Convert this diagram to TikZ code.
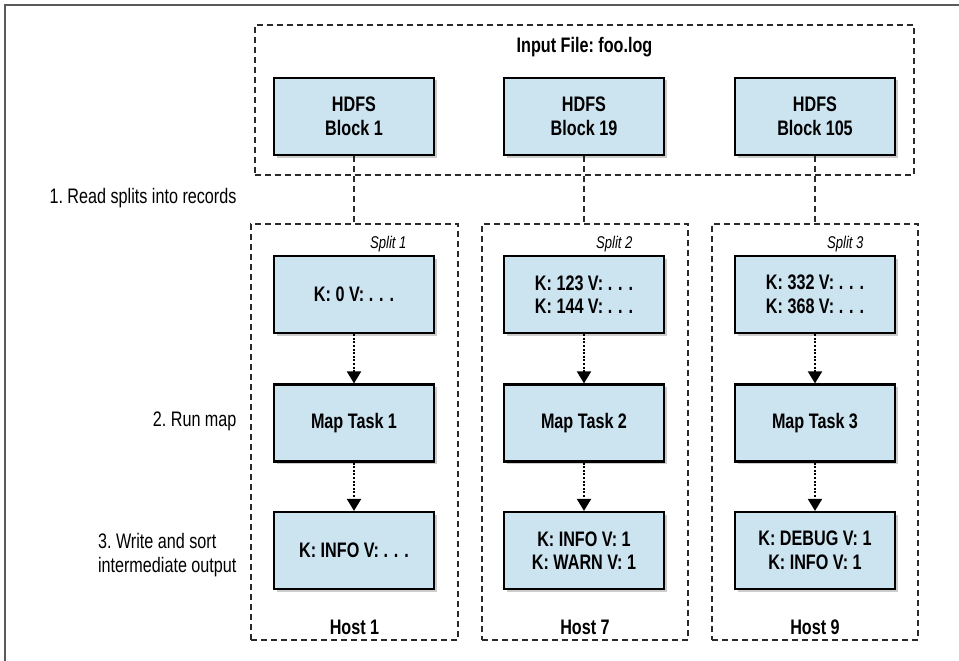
\documentclass[tikz,border=0pt]{standalone}
\usepackage{fontspec}
\setmainfont{Liberation Sans}[FakeStretch=0.77]
\usetikzlibrary{arrows.meta,shadows}
\definecolor{boxfill}{HTML}{CCE3F0}
\definecolor{dashc}{HTML}{2A2A2A}
\definecolor{framec}{HTML}{5A5A5A}
\newcommand{\sdots}{.\hspace{0.28em}.\hspace{0.28em}.}
\begin{document}
\frenchspacing
\begin{tikzpicture}[x=1pt,y=-1pt,
  blockbox/.style={draw=black, line width=2.2pt, fill=boxfill,
    minimum width=160pt, minimum height=77pt, align=center,
    font=\fontsize{21}{23.5}\selectfont\bfseries,
    drop shadow={shadow xshift=2.5pt, shadow yshift=-2.5pt, opacity=0.4}},
  groupbox/.style={draw=dashc, line width=1.8pt, dash pattern=on 6pt off 4pt, inner sep=0pt},
  linkline/.style={draw=dashc, line width=1.8pt, dash pattern=on 6pt off 4pt},
  flowarrow/.style={draw=black, line width=2pt, dash pattern=on 2pt off 1.6pt,
    -{Triangle[width=14pt,length=12pt]}},
  steplabel/.style={anchor=east, align=right, font=\fontsize{21}{23.5}\selectfont},
  splitlabel/.style={anchor=base east, font=\fontsize{17}{19}\selectfont\itshape},
  hostlabel/.style={anchor=base, font=\fontsize{21}{23.5}\selectfont\bfseries}]
\useasboundingbox (0,0) rectangle (959,661);
% frame
\draw[framec, line width=1.5pt] (5,661) -- (5,5) -- (959,5);

% input file group
\node[groupbox, minimum width=659pt, minimum height=150pt] (inp) at (584.5,100) {};
\node[font=\fontsize{21}{23.5}\selectfont\bfseries] (inpt) at (584.5,47) {Input File: foo.log};

% split/host groups
\node[groupbox, minimum width=207pt, minimum height=416pt] (s1) at (354.5,432) {};
\node[groupbox, minimum width=206pt, minimum height=416pt] (s2) at (585,432) {};
\node[groupbox, minimum width=206pt, minimum height=416pt] (s3) at (815,432) {};

% HDFS blocks
\node[blockbox] (h1) at (354,116.5) {HDFS\\Block 1};
\node[blockbox] (h2) at (584,116.5) {HDFS\\Block 19};
\node[blockbox] (h3) at (815,116.5) {HDFS\\Block 105};

% records
\node[blockbox] (r1) at (354,294.5) {K: 0 V: \sdots};
\node[blockbox] (r2) at (584,294.5) {K: 123 V: \sdots\\K: 144 V: \sdots};
\node[blockbox] (r3) at (815,294.5) {K: 332 V: \sdots\\K: 368 V: \sdots};

% map tasks
\node[blockbox] (m1) at (354,423) {Map Task 1};
\node[blockbox] (m2) at (584,423) {Map Task 2};
\node[blockbox] (m3) at (815,423) {Map Task 3};

% outputs
\node[blockbox] (o1) at (354,550.5) {K: INFO V: \sdots};
\node[blockbox] (o2) at (584,550.5) {K: INFO V: 1\\K: WARN V: 1};
\node[blockbox] (o3) at (815,550.5) {K: DEBUG V: 1\\K: INFO V: 1};

% split labels
\node[splitlabel] (sl1) at (410,248) {Split 1};
\node[splitlabel] (sl2) at (636,248) {Split 2};
\node[splitlabel] (sl3) at (867,248) {Split 3};

% host labels
\node[hostlabel] (hl1) at (354.5,634) {Host 1};
\node[hostlabel] (hl2) at (585,634) {Host 7};
\node[hostlabel] (hl3) at (815,634) {Host 9};

% step labels
\node[steplabel] (st1) at (240,198) {1. Read splits into records};
\node[steplabel] (st2) at (240,421) {2. Run map};
\node[steplabel, align=left] (st3) at (240,555) {3. Write and sort\\intermediate output};

% links from blocks to splits
\draw[linkline] (h1.south) -- (h1.south |- s1.north);
\draw[linkline] (h2.south) -- (h2.south |- s2.north);
\draw[linkline] (h3.south) -- (h3.south |- s3.north);

% flow arrows
\draw[flowarrow] (r1.south) -- (m1.north);
\draw[flowarrow] (r2.south) -- (m2.north);
\draw[flowarrow] (r3.south) -- (m3.north);
\draw[flowarrow] (m1.south) -- (o1.north);
\draw[flowarrow] (m2.south) -- (o2.north);
\draw[flowarrow] (m3.south) -- (o3.north);
\end{tikzpicture}
\end{document}
